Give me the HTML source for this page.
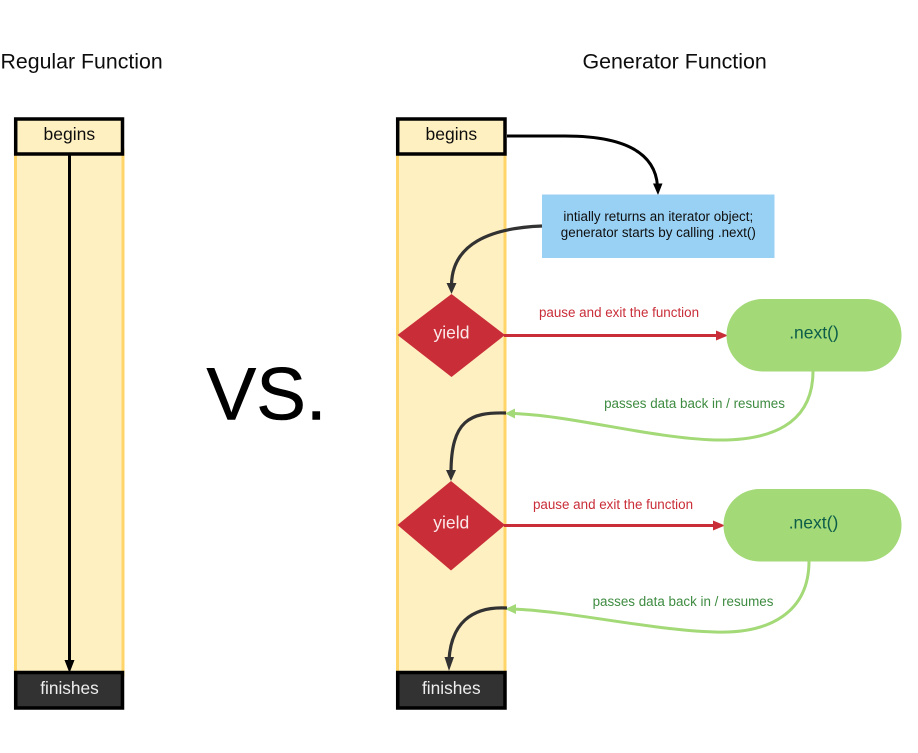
<!DOCTYPE html>
<html>
<head>
<meta charset="utf-8">
<style>
html,body{margin:0;padding:0;background:#fff;width:918px;height:753px;overflow:hidden}
svg{display:block}
text{font-family:"Liberation Sans",sans-serif}
</style>
</head>
<body>
<svg width="918" height="753" viewBox="0 0 918 753" xmlns="http://www.w3.org/2000/svg">
<defs>
<filter id="b" x="-5%" y="-5%" width="110%" height="110%"><feGaussianBlur stdDeviation="0.35"/></filter>
</defs>
<rect width="918" height="753" fill="#fff"/>
<g filter="url(#b)">
<text x="0.5" y="68.500" font-size="21.300" fill="#111">Regular Function</text>
<text x="582.500" y="68.500" font-size="21.400" fill="#111">Generator Function</text>

<!-- left lane -->
<rect x="15.500" y="150" width="107.500" height="525" fill="#fff0c2" stroke="#ffd56b" stroke-width="3"/>
<rect x="15.700" y="119" width="106.800" height="35" fill="#fff0c2" stroke="#000" stroke-width="3.500"/>
<text x="69.300" y="140" font-size="17.500" text-anchor="middle" fill="#111">begins</text>
<line x1="69.500" y1="155" x2="69.500" y2="664" stroke="#000" stroke-width="3"/>
<polygon points="64.500,660 74.500,660 69.500,673" fill="#000"/>
<rect x="15.700" y="672.500" width="106.800" height="35.500" fill="#333" stroke="#000" stroke-width="3.500"/>
<text x="69.500" y="694" font-size="17.300" text-anchor="middle" fill="#eee">finishes</text>

<text x="206.500" y="419.500" font-size="74.500" fill="#000" stroke="#000" stroke-width="0.600">VS.</text>

<!-- right lane -->
<rect x="397.500" y="150" width="107.500" height="525" fill="#fff0c2" stroke="#ffd56b" stroke-width="3"/>
<rect x="397.700" y="119" width="107.300" height="35" fill="#fff0c2" stroke="#000" stroke-width="3.500"/>
<text x="451.300" y="140" font-size="17.500" text-anchor="middle" fill="#111">begins</text>
<rect x="397.700" y="672.500" width="107.300" height="35.500" fill="#333" stroke="#000" stroke-width="3.500"/>
<text x="451.300" y="694" font-size="17.300" text-anchor="middle" fill="#eee">finishes</text>

<!-- begins to box -->
<path d="M507 136 L565 136 C620 136 655 150 657.500 186" fill="none" stroke="#000" stroke-width="3"/>
<polygon points="653,183.500 662.500,183.500 658,195" fill="#000"/>

<rect x="542" y="194.500" width="232.500" height="63.500" fill="#99d1f4"/>
<text x="658.300" y="221" font-size="13.400" text-anchor="middle" fill="#111">intially returns an iterator object;</text>
<text x="658.300" y="237" font-size="13.400" text-anchor="middle" fill="#111">generator starts by calling .next()</text>

<!-- box to yield -->
<path d="M542 226 C490 228 452 244 451.500 285" fill="none" stroke="#333" stroke-width="3.200"/>
<polygon points="446.500,283 456.500,283 451.500,294" fill="#333"/>

<!-- yield 1 -->
<polygon points="451.500,294 505,335 451.500,377 397.500,335" fill="#c92d39"/>
<text x="451.500" y="338.500" font-size="17.500" text-anchor="middle" fill="#fbe9ea">yield</text>
<line x1="504" y1="335.500" x2="720" y2="335.500" stroke="#c92d39" stroke-width="3"/>
<polygon points="716,330.500 728,335.500 716,340.500" fill="#c92d39"/>
<text x="619" y="317" font-size="13.400" text-anchor="middle" fill="#c92d39">pause and exit the function</text>

<rect x="726.500" y="299" width="175" height="72.500" rx="36" fill="#a3d977"/>
<text x="814" y="338.500" font-size="17.500" text-anchor="middle" fill="#0b5d4a">.next()</text>

<!-- resume 1 -->
<path d="M813 371 C813 425 770 441 715 440 C650 438 570 415 512 413.500" fill="none" stroke="#a3d977" stroke-width="3"/>
<polygon points="505,413.500 515,408.500 515,418.500" fill="#a3d977"/>
<text x="694.500" y="408" font-size="13.400" text-anchor="middle" fill="#3e8b41">passes data back in / resumes</text>

<!-- lane to yield 2 -->
<path d="M506 413 C470 412 451 420 451 473" fill="none" stroke="#333" stroke-width="3.200"/>
<polygon points="446,470 456,470 451,481" fill="#333"/>

<!-- yield 2 -->
<polygon points="451,481 505,525 451,570.500 397.500,525" fill="#c92d39"/>
<text x="451.300" y="528.500" font-size="17.500" text-anchor="middle" fill="#fbe9ea">yield</text>
<line x1="504" y1="525.500" x2="718" y2="525.500" stroke="#c92d39" stroke-width="3"/>
<polygon points="713,520.500 725,525.500 713,530.500" fill="#c92d39"/>
<text x="613" y="509" font-size="13.400" text-anchor="middle" fill="#c92d39">pause and exit the function</text>

<rect x="723.500" y="489" width="178" height="72.500" rx="36" fill="#a3d977"/>
<text x="813.500" y="528.500" font-size="17.500" text-anchor="middle" fill="#0b5d4a">.next()</text>

<!-- resume 2 -->
<path d="M809 561 C809 612 770 634 715 632 C650 630 570 611 512 609" fill="none" stroke="#a3d977" stroke-width="3"/>
<polygon points="505,609 516,604 516,614" fill="#a3d977"/>
<text x="683" y="606" font-size="13.400" text-anchor="middle" fill="#3e8b41">passes data back in / resumes</text>

<!-- lane to finishes -->
<path d="M507 608 C470 606 451 625 449 660" fill="none" stroke="#333" stroke-width="3.200"/>
<polygon points="444.500,657 454,657 449,671" fill="#333"/>
</g>
</svg>
</body>
</html>
